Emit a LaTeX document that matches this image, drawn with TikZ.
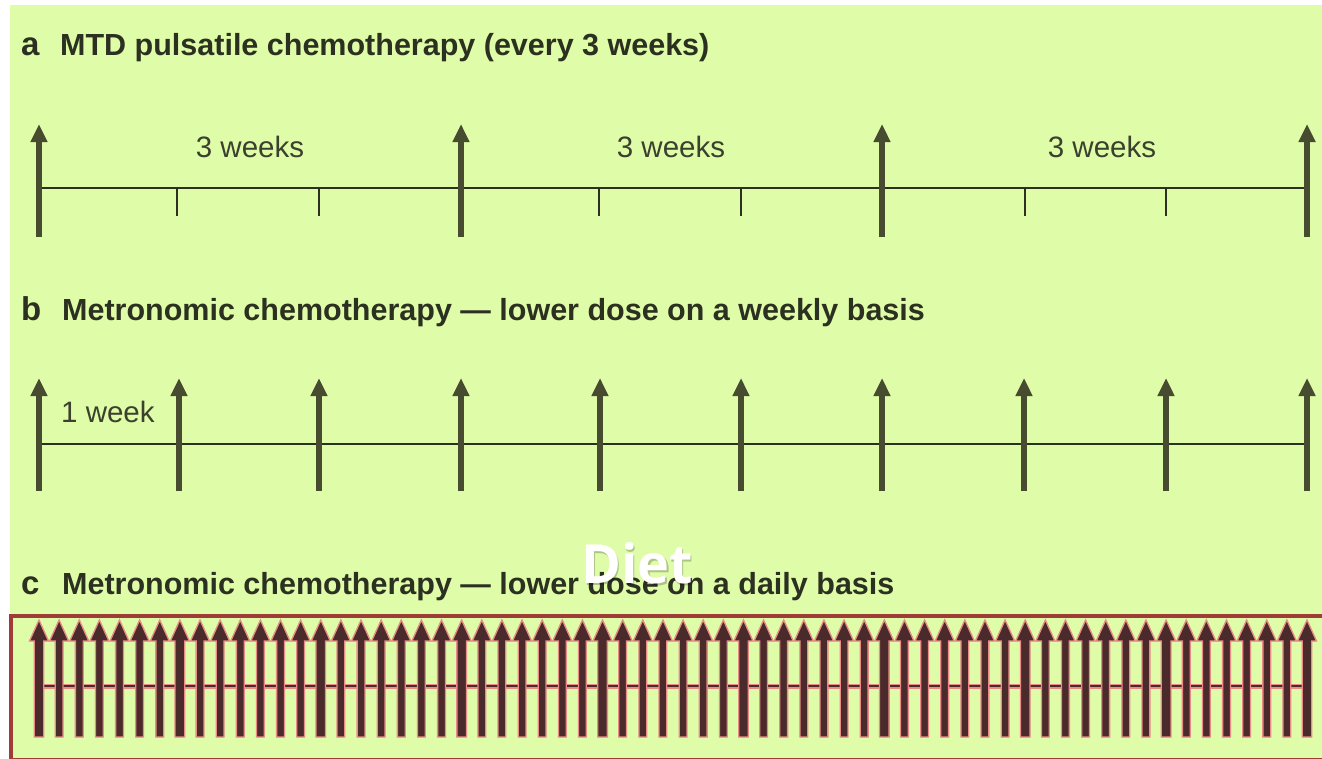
\documentclass[tikz,border=0pt]{standalone}
\usepackage{fontspec}
\setmainfont{Liberation Sans}
\newfontfamily\dietfont{Open Sans}
\usetikzlibrary{arrows.meta}
\definecolor{bg}{RGB}{223,252,168}
\definecolor{arr}{RGB}{71,76,48}
\definecolor{ink}{RGB}{44,48,32}
\definecolor{lbl}{RGB}{60,64,46}
\definecolor{boxred}{RGB}{158,60,54}
\definecolor{darr}{RGB}{74,42,43}
\definecolor{pinkedge}{RGB}{233,139,135}
\begin{document}
\begin{tikzpicture}[x=1pt,y=-1pt,
  title/.style={font=\fontsize{30.5}{32}\selectfont\bfseries, text=ink, anchor=base west, inner sep=0},
  panel/.style={font=\fontsize{33}{34}\selectfont\bfseries, text=ink, anchor=base west, inner sep=0},
  lab/.style={font=\fontsize{29.5}{31}\selectfont, text=lbl, anchor=base, inner sep=0},
  dose/.style={draw=arr, line width=6.5, -{Triangle[width=16pt,length=18pt]}},
  axisline/.style={draw=ink, line width=2.2},
  tickmark/.style={draw=ink, line width=2},
  dailyaxis/.style={draw=darr, line width=2},
  dailyglow/.style={draw=pinkedge, line width=5},
  dailyarrow/.style={fill=darr, draw=pinkedge, line width=1.3, line join=miter}
]
\useasboundingbox (0,0) rectangle (1322,758);
\fill[white] (0,0) rectangle (1322,758);
\fill[bg] (10,5) rectangle (1322,758);

% ---------- panel a ----------
\node[panel] (ta) at (21,55) {a};
\node[title] (tta) at (60,55) {MTD pulsatile chemotherapy (every 3 weeks)};
\coordinate (a0) at (39,188);
\coordinate (a1) at (1307,188);
\draw[axisline] (a0) -- (a1);
\foreach \x in {177,319,599,741,1025,1166}
  \draw[tickmark] (\x,188) -- (\x,216);
\foreach \x in {39,461,882,1307}
  \draw[dose] (\x,237) -- (\x,124);
\node[lab] (la1) at (250,157) {3 weeks};
\node[lab] (la2) at (671,157) {3 weeks};
\node[lab] (la3) at (1102,157) {3 weeks};

% ---------- panel b ----------
\node[panel] (tb) at (21,320) {b};
\node[title] (ttb) at (62,320) {Metronomic chemotherapy --- lower dose on a weekly basis};
\coordinate (b0) at (39,444);
\coordinate (b1) at (1307,444);
\draw[axisline] (b0) -- (b1);
\foreach \x in {39,179,319,461,600,741,882,1024,1166,1307}
  \draw[dose] (\x,491) -- (\x,378);
\node[lab, anchor=base west] (lb1) at (61,422) {1 week};

% ---------- panel c ----------
\node[panel] (tc) at (21,594) {c};
\node[title] (ttc) at (62,594) {Metronomic chemotherapy --- lower dose on a daily basis};
\draw[boxred, line width=4.5, fill=bg] (11,616) rectangle (1330,760);
\coordinate (c0) at (39,686);
\coordinate (c1) at (1307,686);
\draw[dailyglow] (c0) -- (c1);
\draw[dailyaxis] (c0) -- (c1);
\foreach \k in {0,...,63}{
  \pgfmathsetmacro{\xx}{39+\k*20.12698}
  \pgfmathsetmacro{\ww}{mod(\k,7)==0 ? 4.8 : 3.9}
  \path[dailyarrow] (\xx-\ww,737) -- (\xx-\ww,641) -- (\xx-9.5,641) -- (\xx,620)
     -- (\xx+9.5,641) -- (\xx+\ww,641) -- (\xx+\ww,737) -- cycle;
}

% ---------- overlay ----------
\node[font=\dietfont\bfseries\fontsize{54}{56}\selectfont, text=black, opacity=0.22, anchor=base, inner sep=0] (dietshadow) at (638.5,585) {Diet};
\node[font=\dietfont\bfseries\fontsize{54}{56}\selectfont, text=white, anchor=base, inner sep=0] (diet) at (637,583) {Diet};
\end{tikzpicture}
\end{document}
